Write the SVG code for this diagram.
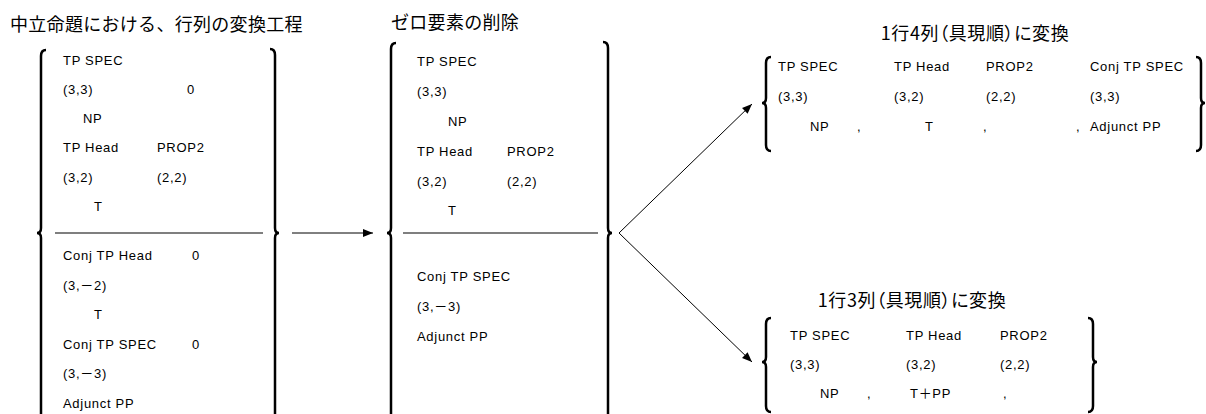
<svg xmlns="http://www.w3.org/2000/svg" width="1206" height="414" viewBox="0 0 1206 414">
<defs>
<marker id="ah" viewBox="0 0 10 10" refX="10" refY="5" markerWidth="10" markerHeight="10" markerUnits="userSpaceOnUse" orient="auto">
<path d="M0,1 L10,5 L0,9 Z" fill="#000"/>
</marker>
<style>
.t{font-family:"Liberation Sans","Noto Sans CJK JP",sans-serif;font-size:13px;letter-spacing:0.7px;fill:#000}
.h{font-family:"Noto Sans CJK JP","Liberation Sans",sans-serif;font-size:18px;letter-spacing:0.3px;fill:#000}
.p{font-feature-settings:"palt";letter-spacing:0.6px}
.br{fill:none;stroke:#000;stroke-width:2.5}
.dv{stroke:#000;stroke-width:1.2}
.cn{fill:none;stroke:#000;stroke-width:1}
</style>
</defs>
<rect width="1206" height="414" fill="#fff"/>

<g id="matrix-original">
<text class="h" x="10" y="31">中立命題における、行列の変換工程</text>
<path class="br" d="M46,50 Q41,50 41,56 L41,228 Q41,233 37,233 Q41,233 41,238 L41,425"/>
<path class="br" d="M270,49 Q275,49 275,55 L275,228 Q275,233 279,233 Q275,233 275,238 L275,425"/>
<line class="dv" x1="55" y1="233" x2="263" y2="233"/>
<text class="t" x="63" y="65">TP SPEC</text>
<text class="t" x="63" y="94">(3,3)</text>
<text class="t" x="187" y="94">0</text>
<text class="t" x="83" y="123">NP</text>
<text class="t" x="63" y="152">TP Head</text>
<text class="t" x="157" y="152">PROP2</text>
<text class="t" x="63" y="182">(3,2)</text>
<text class="t" x="157" y="182">(2,2)</text>
<text class="t" x="94" y="211">T</text>
<text class="t" x="63" y="260">Conj TP Head</text>
<text class="t" x="192" y="260">0</text>
<text class="t" x="63" y="290">(3,－2)</text>
<text class="t" x="94" y="319">T</text>
<text class="t" x="63" y="349">Conj TP SPEC</text>
<text class="t" x="192" y="349">0</text>
<text class="t" x="63" y="378">(3,－3)</text>
<text class="t" x="63" y="408">Adjunct PP</text>
</g>

<g id="matrix-deleted">
<text class="h" x="391" y="29">ゼロ要素の削除</text>
<path class="br" d="M396,43 Q391,43 391,49 L391,228 Q391,233 387,233 Q391,233 391,238 L391,425"/>
<path class="br" d="M603,42 Q608,42 608,48 L608,228 Q608,233 612,233 Q608,233 608,238 L608,425"/>
<line class="dv" x1="403" y1="233" x2="598" y2="233" stroke="#555"/>
<text class="t" x="417" y="66">TP SPEC</text>
<text class="t" x="417" y="96">(3,3)</text>
<text class="t" x="448" y="126">NP</text>
<text class="t" x="417" y="156">TP Head</text>
<text class="t" x="507" y="156">PROP2</text>
<text class="t" x="417" y="186">(3,2)</text>
<text class="t" x="507" y="186">(2,2)</text>
<text class="t" x="448" y="215">T</text>
<text class="t" x="417" y="281">Conj TP SPEC</text>
<text class="t" x="417" y="311">(3,－3)</text>
<text class="t" x="417" y="341">Adjunct PP</text>
</g>

<g id="matrix-1x4">
<text class="h p" x="975" y="40" text-anchor="middle">1行4列（具現順）に変換</text>
<path class="br" d="M771,57 Q766,57 766,63 L766,98 Q766,103 762,103 Q766,103 766,108 L766,145 Q766,151 771,151"/>
<path class="br" d="M1196,57 Q1201,57 1201,63 L1201,98 Q1201,103 1205,103 Q1201,103 1201,108 L1201,145 Q1201,151 1196,151"/>
<text class="t" x="778" y="71">TP SPEC</text>
<text class="t" x="894" y="71">TP Head</text>
<text class="t" x="986" y="71">PROP2</text>
<text class="t" x="1090" y="71">Conj TP SPEC</text>
<text class="t" x="778" y="101">(3,3)</text>
<text class="t" x="894" y="101">(3,2)</text>
<text class="t" x="986" y="101">(2,2)</text>
<text class="t" x="1090" y="101">(3,3)</text>
<text class="t" x="810" y="131">NP</text>
<text class="t" x="857" y="131">,</text>
<text class="t" x="925" y="131">T</text>
<text class="t" x="983" y="131">,</text>
<text class="t" x="1076" y="131">,</text>
<text class="t" x="1090" y="131">Adjunct PP</text>
</g>

<g id="matrix-1x3">
<text class="h p" x="912" y="307" text-anchor="middle">1行3列（具現順）に変換</text>
<path class="br" d="M771,318 Q766,318 766,324 L766,357 Q766,362 762,362 Q766,362 766,367 L766,406 Q766,412 771,412"/>
<path class="br" d="M1088,318 Q1093,318 1093,324 L1093,357 Q1093,362 1097,362 Q1093,362 1093,367 L1093,406 Q1093,412 1088,412"/>
<text class="t" x="790" y="340">TP SPEC</text>
<text class="t" x="906" y="340">TP Head</text>
<text class="t" x="1000" y="340">PROP2</text>
<text class="t" x="790" y="369">(3,3)</text>
<text class="t" x="906" y="369">(3,2)</text>
<text class="t" x="1000" y="369">(2,2)</text>
<text class="t" x="820" y="398">NP</text>
<text class="t" x="867" y="398">,</text>
<text class="t" x="910" y="398">T＋PP</text>
<text class="t" x="1003" y="398">,</text>
</g>

<g id="connectors">
<line class="cn" x1="292" y1="233" x2="373" y2="233" marker-end="url(#ah)"/>
<line class="cn" x1="619" y1="233" x2="752" y2="104" marker-end="url(#ah)"/>
<line class="cn" x1="619" y1="233" x2="752" y2="362" marker-end="url(#ah)"/>
</g>
</svg>
